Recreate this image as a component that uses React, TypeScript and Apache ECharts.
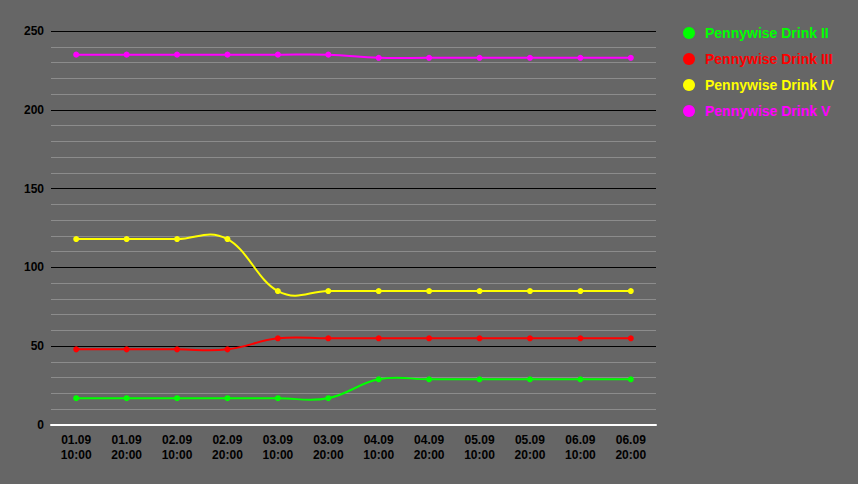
import React, { useEffect, useRef } from "react";
import * as echarts from "echarts";

const categories = [
  "01.09\n10:00", "01.09\n20:00", "02.09\n10:00", "02.09\n20:00",
  "03.09\n10:00", "03.09\n20:00", "04.09\n10:00", "04.09\n20:00",
  "05.09\n10:00", "05.09\n20:00", "06.09\n10:00", "06.09\n20:00",
];
const drinkII = [17, 17, 17, 17, 17, 17, 29, 29, 29, 29, 29, 29];
const drinkIII = [48, 48, 48, 48, 55, 55, 55, 55, 55, 55, 55, 55];
const drinkIV = [118, 118, 118, 118, 85, 85, 85, 85, 85, 85, 85, 85];
const drinkV = [235, 235, 235, 235, 235, 235, 233, 233, 233, 233, 233, 233];

const seriesDefs = [
  { name: "Pennywise Drink II", data: drinkII, color: "#00ff00" },
  { name: "Pennywise Drink III", data: drinkIII, color: "#ff0000" },
  { name: "Pennywise Drink IV", data: drinkIV, color: "#ffff00" },
  { name: "Pennywise Drink V", data: drinkV, color: "#ff00ff" },
];

// control points of a cardinal-like spline (smoothing 1.5)
function controls(pts: number[][], i: number) {
  const [x, y] = pts[i];
  if (i === 0 || i === pts.length - 1) return { lx: x, ly: y, rx: x, ry: y };
  const s = 1.5;
  const d = s + 1;
  const [px, py] = pts[i - 1];
  const [nx, ny] = pts[i + 1];
  const lx = (s * x + px) / d;
  let ly = (s * y + py) / d;
  const rx = (s * x + nx) / d;
  let ry = (s * y + ny) / d;
  let corr = 0;
  if (rx !== lx) corr = ((ry - ly) * (rx - x)) / (rx - lx) + y - ry;
  ly += corr;
  ry += corr;
  return { lx, ly, rx, ry };
}

export default function App() {
  const ref = useRef<HTMLDivElement>(null);
  useEffect(() => {
    document.body.style.margin = "0";
    if (!ref.current) return;
    const chart = echarts.init(ref.current, null, { renderer: "svg" });
    const font = "'Liberation Sans', Arial, sans-serif";
    const curveSeries = seriesDefs.map((s) => ({
      name: s.name,
      type: "custom",
      data: s.data.map((v, i) => [i, v]),
      z: 2,
      renderItem: (params: any, api: any) => {
        const i = params.dataIndex;
        if (i === 0) return { type: "group", children: [] };
        const pts = s.data.map((v, k) => api.coord([k, v]));
        const a = controls(pts, i - 1);
        const b = controls(pts, i);
        return {
          type: "bezierCurve",
          shape: {
            x1: pts[i - 1][0], y1: pts[i - 1][1],
            cpx1: a.rx, cpy1: a.ry,
            cpx2: b.lx, cpy2: b.ly,
            x2: pts[i][0], y2: pts[i][1],
          },
          style: { stroke: s.color, lineWidth: 2, fill: "none" },
        };
      },
    }));
    chart.setOption({
      animation: false,
      backgroundColor: "#666666",
      textStyle: { fontFamily: font },
      grid: { left: 51, right: 202, top: 31, bottom: 59 },
      legend: {
        orient: "vertical",
        left: 683,
        top: 26,
        padding: 0,
        itemWidth: 22,
        itemHeight: 12,
        itemGap: 12,
        icon: "circle",
        data: seriesDefs.map((s) => ({
          name: s.name,
          icon: "circle",
          itemStyle: { color: s.color },
          textStyle: { color: s.color, fontWeight: "bold", fontSize: 14, fontFamily: font },
        })),
      },
      xAxis: {
        type: "category",
        data: categories,
        boundaryGap: true,
        axisLine: { lineStyle: { color: "#ffffff", width: 2 } },
        axisTick: { show: false },
        axisLabel: {
          color: "#000000",
          fontWeight: "bold",
          fontSize: 12,
          lineHeight: 15,
          margin: 7,
          interval: 0,
        },
      },
      yAxis: {
        type: "value",
        min: 0,
        max: 250,
        interval: 50,
        axisLine: { show: false },
        axisTick: { show: false },
        axisLabel: { color: "#000000", fontWeight: "bold", fontSize: 12, margin: 7 },
        splitLine: { lineStyle: { color: "#000000", width: 1 } },
        minorTick: { show: false, splitNumber: 5 },
        minorSplitLine: { show: true, lineStyle: { color: "#8c8c8c", width: 1 } },
      },
      series: [
        ...seriesDefs.map((s) => ({
          name: s.name,
          type: "line",
          data: s.data,
          symbol: "circle",
          symbolSize: 6,
          color: s.color,
          lineStyle: { color: s.color, width: 0, opacity: 0 },
          itemStyle: { color: s.color },
          z: 3,
        })),
        ...curveSeries,
      ],
    });
    return () => chart.dispose();
  }, []);
  return <div ref={ref} style={{ width: 858, height: 484 }} />;
}
